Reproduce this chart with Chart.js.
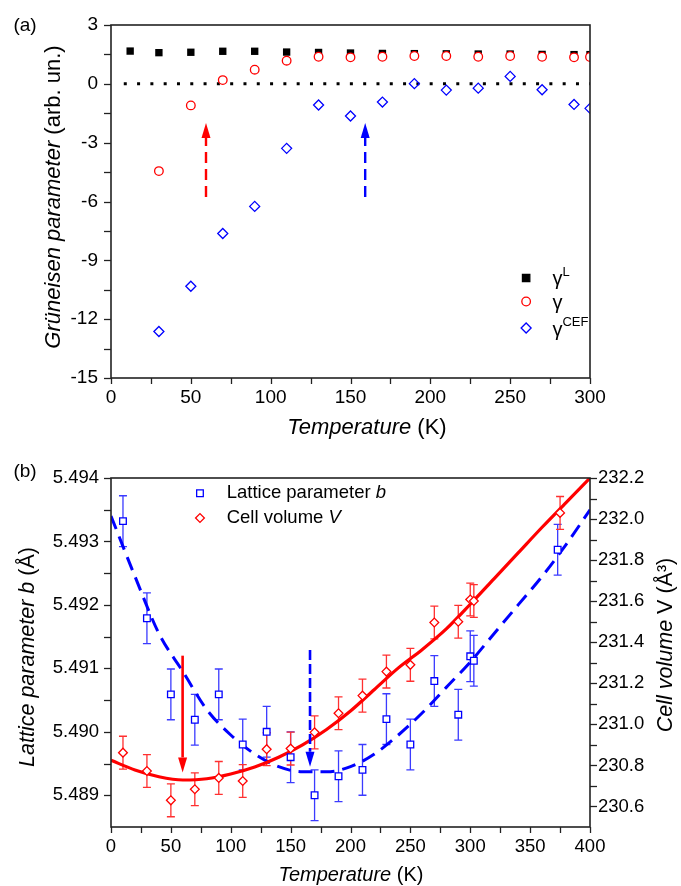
<!DOCTYPE html>
<html>
<head>
<meta charset="utf-8">
<script src="https://cdn.jsdelivr.net/npm/chart.js@4.4.0/dist/chart.umd.min.js"></script>
<style>
  html, body { margin: 0; padding: 0; background: #fff; }
  canvas { display: block; }
</style>
</head>
<body>
<canvas id="chartA" width="681" height="440"></canvas>
<canvas id="chartB" width="681" height="446"></canvas>
<script>
// ---------- panel (a): Grueneisen parameters ----------
var tempL = [12, 30, 50, 70, 90, 110, 130, 150, 170, 190, 210, 230, 250, 270, 290, 300];
var gammaL = [1.67, 1.59, 1.61, 1.66, 1.66, 1.62, 1.60, 1.57, 1.55, 1.54, 1.53, 1.52, 1.52, 1.50, 1.49, 1.49];
var tempG = [30, 50, 70, 90, 110, 130, 150, 170, 190, 210, 230, 250, 270, 290, 300];
var gammaTot = [-4.45, -1.10, 0.19, 0.72, 1.18, 1.38, 1.35, 1.38, 1.42, 1.42, 1.38, 1.42, 1.38, 1.35, 1.37];
var gammaCEF = [-12.63, -10.32, -7.63, -6.25, -3.29, -1.08, -1.64, -0.93, 0.01, -0.32, -0.22, 0.38, -0.30, -1.05, -1.25];
var zeroLineT = [8, 300];
var ticksTa = [0, 50, 100, 150, 200, 250, 300];
var ticksGamma = [-15, -12, -9, -6, -3, 0, 3];
var arrowTa = [59.5, 159.2];     // red, blue
var arrowYa = [-5.77, -2.0];     // tail, tip
var legendTa = [260, 276.5];     // marker, text
var legendYa = [-9.9, -11.1, -12.45];

// ---------- panel (b): lattice parameter b and cell volume V ----------
var tempB = [10, 30, 50, 70, 90, 110, 130, 150, 170, 190, 210, 230, 250, 270, 290, 300, 303, 373];
var latticeB = [5.49332, 5.49179, 5.49059, 5.49019, 5.49059, 5.48980, 5.49000, 5.48960, 5.48900,
                5.48930, 5.48940, 5.49020, 5.48980, 5.49080, 5.49027, 5.49119, 5.49112, 5.49287];
var latticeErr = [0.0004, 0.0004, 0.0004, 0.0004, 0.0004, 0.0004, 0.0004, 0.0004, 0.0004,
                  0.0004, 0.0004, 0.0004, 0.0004, 0.0004, 0.0004, 0.0004, 0.0004, 0.0004];
var tempV = [10, 30, 50, 70, 90, 110, 130, 150, 170, 190, 210, 230, 250, 270, 290, 300, 303, 375];
var cellV = [230.862, 230.773, 230.630, 230.684, 230.739, 230.724, 230.879, 230.882, 230.961,
             231.054, 231.140, 231.257, 231.290, 231.496, 231.500, 231.608, 231.601, 232.030];
var cellErr = [0.08, 0.08, 0.08, 0.08, 0.08, 0.08, 0.08, 0.08, 0.08,
               0.08, 0.08, 0.08, 0.08, 0.08, 0.08, 0.08, 0.08, 0.08];
var fitT = [0, 20, 40, 60, 80, 100, 120, 140, 160, 180, 200, 220, 240, 260, 280, 300, 320, 340, 360, 380, 400];
var fitV = [230.825, 230.778, 230.745, 230.729, 230.735, 230.758, 230.792, 230.840, 230.900, 230.975, 231.065,
            231.170, 231.275, 231.365, 231.465, 231.585, 231.710, 231.835, 231.960, 232.080, 232.200];
var fitB = [5.49340, 5.49245, 5.49155, 5.49095, 5.49035, 5.48995, 5.48965, 5.48945, 5.48937, 5.48937, 5.48945,
            5.48965, 5.48995, 5.49030, 5.49070, 5.49110, 5.49155, 5.49200, 5.49245, 5.49295, 5.49350];
var ticksTb = [0, 50, 100, 150, 200, 250, 300, 350, 400];
var ticksB = [5.489, 5.490, 5.491, 5.492, 5.493, 5.494];
var ticksV = [230.6, 230.8, 231.0, 231.2, 231.4, 231.6, 231.8, 232.0, 232.2];
var arrowTb = [59.8, 166.2];                 // red, blue
var arrowYbRed = [5.4912, 5.48936];          // tail, tip (left axis)
var arrowYbBlue = [5.49129, 5.48945];
var legendTb = [74.3, 96.6];
var legendYb = [5.49376, 5.49337];

var FONT = "'Liberation Sans', Arial, Helvetica, sans-serif";
var RED = '#ff0000', BLUE = '#0000ff';

function pts(xs, ys) {
  return xs.map(function (x, i) { return { x: x, y: ys[i] }; });
}

function withMinor(arr) {
  var out = arr.slice();
  for (var i = 0; i < arr.length - 1; i++) out.push((arr[i] + arr[i + 1]) / 2);
  return out;
}

// draw text made of several font runs, centred (or left aligned) on x,y
function rich(ctx, segs, x, y, rot, align) {
  ctx.save();
  ctx.translate(x, y);
  ctx.rotate(rot || 0);
  ctx.fillStyle = '#000';
  ctx.textBaseline = 'middle';
  ctx.textAlign = 'left';
  var total = 0;
  segs.forEach(function (s) { ctx.font = s[1]; total += ctx.measureText(s[0]).width; });
  var cx = align === 'left' ? 0 : -total / 2;
  segs.forEach(function (s) {
    ctx.font = s[1];
    ctx.fillText(s[0], cx, s[2] || 0);
    cx += ctx.measureText(s[0]).width;
  });
  ctx.restore();
}

function frame(chart, specs) {
  var ctx = chart.ctx, a = chart.chartArea;
  ctx.save();
  ctx.strokeStyle = '#222';
  ctx.lineWidth = 1.6;
  ctx.setLineDash([]);
  ctx.strokeRect(a.left, a.top, a.right - a.left, a.bottom - a.top);
  ctx.lineWidth = 1.3;
  specs.forEach(function (sp) {
    var sc = chart.scales[sp.id];
    withMinor(sp.values).forEach(function (v) {
      var p = Math.round(sc.getPixelForValue(v)) + 0.5;
      ctx.beginPath();
      if (sp.side === 'left') { ctx.moveTo(a.left, p); ctx.lineTo(a.left - sp.len, p); }
      if (sp.side === 'right') { ctx.moveTo(a.right, p); ctx.lineTo(a.right + sp.len, p); }
      if (sp.side === 'bottom') { ctx.moveTo(p, a.bottom); ctx.lineTo(p, a.bottom + sp.len); }
      ctx.stroke();
    });
  });
  ctx.restore();
}

function arrow(chart, t, y0, y1, color, dash, lw) {
  var ctx = chart.ctx, xs = chart.scales.x, ys = chart.scales.y;
  var x = xs.getPixelForValue(t), p0 = ys.getPixelForValue(y0), p1 = ys.getPixelForValue(y1);
  var dir = p1 < p0 ? 1 : -1, headL = 15, headW = 4.5;
  ctx.save();
  ctx.strokeStyle = color;
  ctx.fillStyle = color;
  ctx.lineWidth = lw;
  ctx.setLineDash(dash);
  ctx.beginPath();
  ctx.moveTo(x, p0);
  ctx.lineTo(x, p1 + dir * headL);
  ctx.stroke();
  ctx.setLineDash([]);
  ctx.beginPath();
  ctx.moveTo(x, p1);
  ctx.lineTo(x - headW, p1 + dir * headL);
  ctx.lineTo(x + headW, p1 + dir * headL);
  ctx.closePath();
  ctx.fill();
  ctx.restore();
}

function errorBars(chart, yId, xs, ys, errs, color) {
  var ctx = chart.ctx, sx = chart.scales.x, sy = chart.scales[yId];
  ctx.save();
  ctx.strokeStyle = color;
  ctx.lineWidth = 1.3;
  xs.forEach(function (t, i) {
    var x = sx.getPixelForValue(t);
    var top = sy.getPixelForValue(ys[i] + errs[i]), bot = sy.getPixelForValue(ys[i] - errs[i]);
    ctx.beginPath();
    ctx.moveTo(x, top); ctx.lineTo(x, bot);
    ctx.moveTo(x - 4, top); ctx.lineTo(x + 4, top);
    ctx.moveTo(x - 4, bot); ctx.lineTo(x + 4, bot);
    ctx.stroke();
  });
  ctx.restore();
}

function marker(ctx, style, x, y, r, fill, stroke) {
  ctx.save();
  ctx.fillStyle = fill;
  ctx.strokeStyle = stroke;
  ctx.lineWidth = 1.3;
  Chart.helpers.drawPoint(ctx, { pointStyle: style, radius: r, rotation: 0, borderWidth: 1.3 }, x, y);
  ctx.restore();
}

function tickFont(size) { return { family: FONT, size: size }; }

// ---------------- chart (a) ----------------
var decorA = {
  id: 'decorA',
  afterDraw: function (chart) {
    var ctx = chart.ctx, sx = chart.scales.x, sy = chart.scales.y;
    frame(chart, [
      { id: 'x', side: 'bottom', values: ticksTa, len: 6 },
      { id: 'y', side: 'left', values: ticksGamma, len: 7 }
    ]);
    arrow(chart, arrowTa[0], arrowYa[0], arrowYa[1], RED, [11, 6], 2.4);
    arrow(chart, arrowTa[1], arrowYa[0], arrowYa[1], BLUE, [11, 6], 2.4);

    var mx = sx.getPixelForValue(legendTa[0]), tx = sx.getPixelForValue(legendTa[1]);
    var y0 = sy.getPixelForValue(legendYa[0]), y1 = sy.getPixelForValue(legendYa[1]), y2 = sy.getPixelForValue(legendYa[2]);
    marker(ctx, 'rect', mx, y0, 5.2, '#000', '#000');
    marker(ctx, 'circle', mx, y1, 4.3, '#fff', RED);
    marker(ctx, 'rectRot', mx, y2, 5, 'rgba(0,0,0,0)', BLUE);
    var g = '20px ' + FONT, sup = '13px ' + FONT;
    rich(ctx, [['γ', g, 2], ['L', sup, -6]], tx, y0, 0, 'left');
    rich(ctx, [['γ', g, 2]], tx, y1, 0, 'left');
    rich(ctx, [['γ', g, 2], ['CEF', sup, -6]], tx, y2, 0, 'left');

    rich(ctx, [['(a)', '19px ' + FONT]], 25, 26, 0);
    rich(ctx, [['Grüneisen parameter', 'italic 22px ' + FONT], [' (arb. un.)', '22px ' + FONT]], 54, 197, -Math.PI / 2);
    rich(ctx, [['Temperature', 'italic 22px ' + FONT], [' (K)', '22px ' + FONT]], 367, 428, 0);
  }
};

new Chart(document.getElementById('chartA'), {
  type: 'line',
  data: {
    datasets: [
      { label: 'γL', data: pts(tempL, gammaL), showLine: false, pointStyle: 'rect', pointRadius: 5.2,
        backgroundColor: '#000', borderColor: '#000', borderWidth: 0, clip: 0, order: 3 },
      { label: 'γ', data: pts(tempG, gammaTot), showLine: false, pointStyle: 'circle', pointRadius: 4.3,
        backgroundColor: '#fff', borderColor: RED, borderWidth: 1.3, clip: 0, order: 2 },
      { label: 'γCEF', data: pts(tempG, gammaCEF), showLine: false, pointStyle: 'rectRot', pointRadius: 5,
        backgroundColor: 'rgba(0,0,0,0)', borderColor: BLUE, borderWidth: 1.3, clip: 0, order: 1 },
      { label: 'zero', data: pts(zeroLineT, [0, 0]), borderColor: '#000', borderWidth: 3,
        borderDash: [3, 10.3], pointRadius: 0, order: 4 }
    ]
  },
  options: {
    responsive: false,
    animation: false,
    devicePixelRatio: 1,
    layout: { padding: { top: 25, right: 91, left: 0, bottom: 0 } },
    plugins: { legend: { display: false }, tooltip: { enabled: false } },
    scales: {
      x: {
        type: 'linear', min: 0, max: 300,
        afterBuildTicks: function (s) { s.ticks = ticksTa.map(function (v) { return { value: v }; }); },
        afterFit: function (s) { s.height = 62; },
        grid: { display: false, drawTicks: false },
        border: { display: false },
        ticks: { font: tickFont(19), color: '#000', padding: 8.5, autoSkip: false, maxRotation: 0,
                 callback: function (v) { return String(v); } }
      },
      y: {
        type: 'linear', min: -15, max: 3,
        afterBuildTicks: function (s) { s.ticks = ticksGamma.map(function (v) { return { value: v }; }); },
        afterFit: function (s) { s.width = 111; },
        grid: { display: false, drawTicks: false },
        border: { display: false },
        ticks: { font: tickFont(19), color: '#000', padding: 13, autoSkip: false,
                 callback: function (v) { return String(v); } }
      }
    }
  },
  plugins: [decorA]
});

// ---------------- chart (b) ----------------
var decorB = {
  id: 'decorB',
  beforeDatasetsDraw: function (chart) {
    errorBars(chart, 'y', tempB, latticeB, latticeErr, '#3b3bff');
    errorBars(chart, 'y2', tempV, cellV, cellErr, '#ff3030');
  },
  afterDraw: function (chart) {
    var ctx = chart.ctx, sx = chart.scales.x, sy = chart.scales.y;
    frame(chart, [
      { id: 'x', side: 'bottom', values: ticksTb, len: 6 },
      { id: 'y', side: 'left', values: ticksB, len: 7 },
      { id: 'y2', side: 'right', values: ticksV, len: 7 }
    ]);
    arrow(chart, arrowTb[0], arrowYbRed[0], arrowYbRed[1], RED, [], 2.6);
    arrow(chart, arrowTb[1], arrowYbBlue[0], arrowYbBlue[1], BLUE, [10, 4], 2.6);

    var mx = sx.getPixelForValue(legendTb[0]), tx = sx.getPixelForValue(legendTb[1]);
    var y0 = sy.getPixelForValue(legendYb[0]), y1 = sy.getPixelForValue(legendYb[1]);
    marker(ctx, 'rect', mx, y0, 4.7, '#fff', BLUE);
    marker(ctx, 'rectRot', mx, y1, 4.4, '#fff', RED);
    var f = '18.5px ' + FONT, fi = 'italic 18.5px ' + FONT;
    rich(ctx, [['Lattice parameter ', f], ['b', fi]], tx, y0, 0, 'left');
    rich(ctx, [['Cell volume ', f], ['V', fi]], tx, y1, 0, 'left');

    rich(ctx, [['(b)', '19px ' + FONT]], 25, 32, 0);
    rich(ctx, [['Lattice parameter b', 'italic 21.5px ' + FONT], [' (Å)', '21.5px ' + FONT]], 28, 217, -Math.PI / 2);
    rich(ctx, [['Cell volume', 'italic 21.5px ' + FONT], [' V (Å³)', '21.5px ' + FONT]], 666, 205, -Math.PI / 2);
    rich(ctx, [['Temperature', 'italic 20px ' + FONT], [' (K)', '20px ' + FONT]], 351, 435, 0);
  }
};

new Chart(document.getElementById('chartB'), {
  type: 'line',
  data: {
    datasets: [
      { label: 'Lattice parameter b', data: pts(tempB, latticeB), yAxisID: 'y', showLine: false,
        pointStyle: 'rect', pointRadius: 4.7, backgroundColor: '#fff', borderColor: BLUE, borderWidth: 1.3, order: 2 },
      { label: 'Cell volume V', data: pts(tempV, cellV), yAxisID: 'y2', showLine: false,
        pointStyle: 'rectRot', pointRadius: 4.4, backgroundColor: '#fff', borderColor: RED, borderWidth: 1.3, order: 1 },
      { label: 'fit b', data: pts(fitT, fitB), yAxisID: 'y', borderColor: BLUE, borderWidth: 3,
        borderDash: [14, 8], pointRadius: 0, cubicInterpolationMode: 'monotone', order: 4 },
      { label: 'fit V', data: pts(fitT, fitV), yAxisID: 'y2', borderColor: RED, borderWidth: 3.2,
        pointRadius: 0, cubicInterpolationMode: 'monotone', order: 3 }
    ]
  },
  options: {
    responsive: false,
    animation: false,
    devicePixelRatio: 1,
    layout: { padding: { top: 38, right: 0, left: 0, bottom: 0 } },
    plugins: { legend: { display: false }, tooltip: { enabled: false } },
    scales: {
      x: {
        type: 'linear', min: 0, max: 400,
        afterBuildTicks: function (s) { s.ticks = ticksTb.map(function (v) { return { value: v }; }); },
        afterFit: function (s) { s.height = 59; },
        grid: { display: false, drawTicks: false },
        border: { display: false },
        ticks: { font: tickFont(18.5), color: '#000', padding: 8.5, autoSkip: false, maxRotation: 0,
                 callback: function (v) { return String(v); } }
      },
      y: {
        type: 'linear', position: 'left', min: 5.4885, max: 5.494,
        afterBuildTicks: function (s) { s.ticks = ticksB.map(function (v) { return { value: v }; }); },
        afterFit: function (s) { s.width = 111; },
        grid: { display: false, drawTicks: false },
        border: { display: false },
        ticks: { font: tickFont(18.5), color: '#000', padding: 12, autoSkip: false,
                 callback: function (v) { return v.toFixed(3); } }
      },
      y2: {
        type: 'linear', position: 'right', min: 230.5, max: 232.2,
        afterBuildTicks: function (s) { s.ticks = ticksV.map(function (v) { return { value: v }; }); },
        afterFit: function (s) { s.width = 91; },
        grid: { display: false, drawTicks: false },
        border: { display: false },
        ticks: { font: tickFont(18.5), color: '#000', padding: 8, autoSkip: false,
                 callback: function (v) { return v.toFixed(1); } }
      }
    }
  },
  plugins: [decorB]
});
</script>
</body>
</html>
